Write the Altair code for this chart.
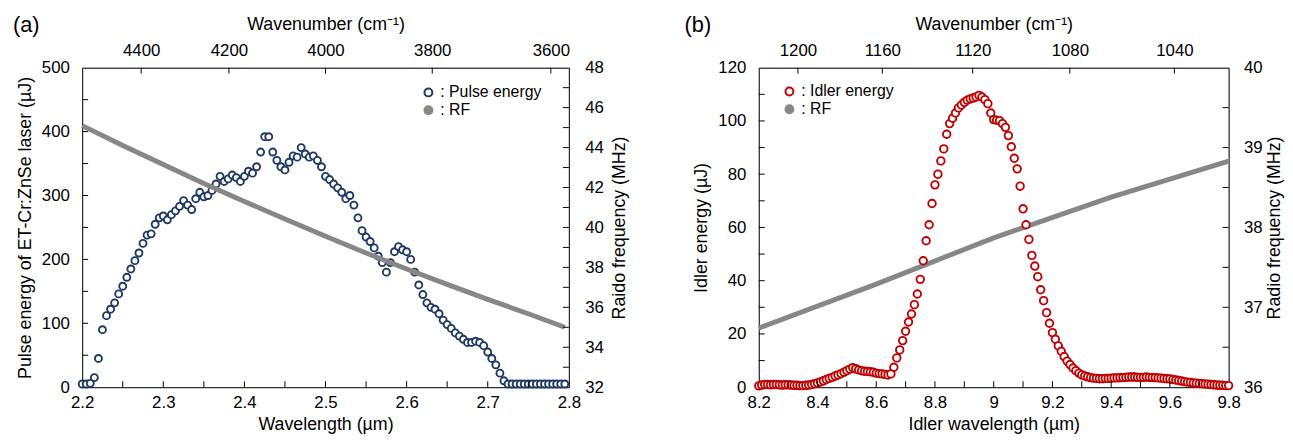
import altair as alt
import pandas as pd

FONT = "Liberation Sans"
NAVY = "#1F3864"
RED = "#C00000"
GRAY = "#878787"

# ---------------- panel (a) data ----------------
WL_A = [2.200, 2.205, 2.210, 2.215, 2.220, 2.225, 2.230, 2.235, 2.240, 2.245,
        2.250, 2.255, 2.260, 2.265, 2.270, 2.275, 2.280, 2.285, 2.290, 2.295,
        2.300, 2.305, 2.310, 2.315, 2.320, 2.325, 2.330, 2.335, 2.340, 2.345,
        2.350, 2.355, 2.360, 2.365, 2.370, 2.375, 2.380, 2.385, 2.390, 2.395,
        2.400, 2.405, 2.410, 2.415, 2.420, 2.425, 2.430, 2.435, 2.440, 2.445,
        2.450, 2.455, 2.460, 2.465, 2.470, 2.475, 2.480, 2.485, 2.490, 2.495,
        2.500, 2.505, 2.510, 2.515, 2.520, 2.525, 2.530, 2.535, 2.540, 2.545,
        2.550, 2.555, 2.560, 2.565, 2.570, 2.575, 2.580, 2.585, 2.590, 2.595,
        2.600, 2.605, 2.610, 2.615, 2.620, 2.625, 2.630, 2.635, 2.640, 2.645,
        2.650, 2.655, 2.660, 2.665, 2.670, 2.675, 2.680, 2.685, 2.690, 2.695,
        2.700, 2.705, 2.710, 2.715, 2.720, 2.725, 2.730, 2.735, 2.740, 2.745,
        2.750, 2.755, 2.760, 2.765, 2.770, 2.775, 2.780, 2.785, 2.790, 2.795]
PULSE = [5, 5, 6, 15, 45, 90, 112, 122, 132, 146,
         158, 172, 185, 198, 210, 225, 238, 240, 255, 265,
         268, 262, 270, 276, 283, 292, 285, 278, 295, 305,
         298, 300, 308, 318, 330, 322, 326, 332, 328, 322,
         330, 338, 335, 345, 368, 392, 392, 368, 355, 345,
         340, 352, 362, 360, 375, 365, 360, 362, 355, 345,
         330, 325, 318, 312, 305, 295, 300, 285, 265, 245,
         235, 228, 218, 205, 195, 180, 195, 212, 220, 215,
         212, 200, 180, 160, 145, 132, 125, 122, 115, 105,
         98, 92, 85, 80, 75, 70, 70, 72, 70, 65,
         55, 45, 35, 22, 10, 5, 5, 5, 5, 5,
         5, 5, 5, 5, 5, 5, 5, 5, 5, 5]
RF_WL_A = [2.2, 2.25, 2.3, 2.35, 2.4, 2.45, 2.5, 2.55, 2.6, 2.65, 2.7, 2.75, 2.795]
RF_A = [45.1, 44.1, 43.15, 42.2, 41.3, 40.42, 39.56, 38.72, 37.92, 37.15, 36.4, 35.68, 35.0]

XT_A = [2.2, 2.3, 2.4, 2.5, 2.6, 2.7, 2.8]
XMINOR_A = [2.25, 2.3, 2.35, 2.4, 2.45, 2.5, 2.55, 2.6, 2.65, 2.7, 2.75]
WN_A = [4400, 4200, 4000, 3800, 3600]
YT_A = [0, 100, 200, 300, 400, 500]
YMINOR_A = [50, 100, 150, 200, 250, 300, 350, 400, 450]
RT_A = [32, 34, 36, 38, 40, 42, 44, 46, 48]
RMINOR_A = [33, 34, 35, 36, 37, 38, 39, 40, 41, 42, 43, 44, 45, 46, 47]

# ---------------- panel (b) data ----------------
WL_B = [8.20, 8.21, 8.22, 8.23, 8.24, 8.25, 8.26, 8.27, 8.28, 8.29,
        8.30, 8.31, 8.32, 8.33, 8.34, 8.35, 8.36, 8.37, 8.38, 8.39,
        8.40, 8.41, 8.42, 8.43, 8.44, 8.45, 8.46, 8.47, 8.48, 8.49,
        8.50, 8.51, 8.52, 8.53, 8.54, 8.55, 8.56, 8.57, 8.58, 8.59,
        8.60, 8.61, 8.62, 8.63, 8.64, 8.65, 8.66, 8.67, 8.68, 8.69,
        8.70, 8.71, 8.72, 8.73, 8.74, 8.75, 8.76, 8.77, 8.78, 8.79,
        8.80, 8.81, 8.82, 8.83, 8.84, 8.85, 8.86, 8.87, 8.88, 8.89,
        8.90, 8.91, 8.92, 8.93, 8.94, 8.95, 8.96, 8.97, 8.98, 8.99,
        9.00, 9.01, 9.02, 9.03, 9.04, 9.05, 9.06, 9.07, 9.08, 9.09,
        9.10, 9.11, 9.12, 9.13, 9.14, 9.15, 9.16, 9.17, 9.18, 9.19,
        9.20, 9.21, 9.22, 9.23, 9.24, 9.25, 9.26, 9.27, 9.28, 9.29,
        9.30, 9.31, 9.32, 9.33, 9.34, 9.35, 9.36, 9.37, 9.38, 9.39,
        9.40, 9.41, 9.42, 9.43, 9.44, 9.45, 9.46, 9.47, 9.48, 9.49,
        9.50, 9.51, 9.52, 9.53, 9.54, 9.55, 9.56, 9.57, 9.58, 9.59,
        9.60, 9.61, 9.62, 9.63, 9.64, 9.65, 9.66, 9.67, 9.68, 9.69,
        9.70, 9.71, 9.72, 9.73, 9.74, 9.75, 9.76, 9.77, 9.78, 9.79,
        9.80]
IDLER = [0.5, 0.8, 1.0, 1.0, 0.9, 1.0, 1.0, 0.9, 0.8, 0.9,
         0.9, 0.8, 0.7, 0.7, 0.6, 0.6, 0.7, 0.8, 1.0, 1.3,
         1.6, 2.0, 2.4, 2.9, 3.3, 3.7, 4.2, 4.6, 5.1, 5.6,
         6.2, 6.8, 7.3, 6.9, 6.5, 6.2, 6.0, 5.9, 5.8, 5.6,
         5.3, 5.1, 5.0, 4.8, 4.6, 5.0, 7.5, 11.0, 14.0, 17.5,
         21.0, 24.5, 27.5, 31.0, 35.0, 40.5, 47.5, 55.0, 61.0, 69.0,
         76.0, 80.0, 85.0, 89.5, 95.0, 99.0, 101.0, 103.0, 104.9, 106.0,
         107.0, 107.8, 108.3, 108.6, 109.0, 109.6, 109.0, 108.0, 106.5, 103.0,
         100.5, 100.3, 100.1, 99.0, 97.6, 94.5, 90.3, 86.0, 82.0, 75.5,
         67.0, 61.0, 55.5, 49.5, 45.5, 41.5, 36.6, 32.5, 28.0, 24.0,
         20.5, 18.0, 15.5, 13.5, 11.5, 9.8, 8.5, 7.2, 6.2, 5.3,
         4.6, 4.2, 3.9, 3.6, 3.4, 3.3, 3.2, 3.2, 3.3, 3.3,
         3.4, 3.5, 3.5, 3.6, 3.6, 3.7, 3.8, 3.8, 3.8, 3.7,
         3.7, 3.7, 3.8, 3.7, 3.6, 3.6, 3.5, 3.4, 3.3, 3.2,
         3.1, 2.9, 2.7, 2.5, 2.3, 2.1, 1.9, 1.8, 1.6, 1.5,
         1.4, 1.3, 1.2, 1.1, 1.0, 0.9, 0.8, 0.7, 0.7, 0.6,
         0.6]
RF_WL_B = [8.2, 8.6, 9.0, 9.4, 9.8]
RF_B = [36.74, 37.29, 37.87, 38.38, 38.83]

XT_B = [8.2, 8.4, 8.6, 8.8, 9.0, 9.2, 9.4, 9.6, 9.8]
XMINOR_B = [8.3, 8.4, 8.5, 8.6, 8.7, 8.8, 8.9, 9.0, 9.1, 9.2, 9.3, 9.4, 9.5, 9.6, 9.7]
WN_B = [1200, 1160, 1120, 1080, 1040]
YT_B = [0, 20, 40, 60, 80, 100, 120]
YMINOR_B = [10, 20, 30, 40, 50, 60, 70, 80, 90, 100, 110]
RT_B = [36, 37, 38, 39, 40]
RMINOR_B = [36.5, 37, 37.5, 38, 38.5, 39, 39.5]

LBL = 17
TTL = 18
AX = dict(labelFont=FONT, labelFontSize=LBL, labelColor="black",
          titleFont=FONT, titleFontSize=TTL, titleFontWeight="normal",
          titleColor="black", domainColor="black", grid=False,
          labelFlush=False, labelOverlap=False, ticks=False)
TICK = 6
TICK_COLOR = "black"


def panel(wl, en, rwl, rf, xdom, ydom, rdom, xt, xminor, wn, yt, yminor, rt, rminor,
          W, H, color, label, xtitle, ytitle, rtitle, leg_xy, tag, tag_x, size, rf_on_top,
          rlab_pad, rtitle_pad):
    pts = pd.DataFrame({"wl": wl, "e": en, "s": [label] * len(wl)})
    rfd = pd.DataFrame({"wl": rwl, "rf": rf})
    xs = alt.Scale(domain=xdom, nice=False, zero=False)
    ys = alt.Scale(domain=ydom, nice=False, zero=False)
    rs = alt.Scale(domain=rdom, nice=False, zero=False)
    wn_pos = [10000.0 / v for v in wn]

    leg = dict(orient="none", legendX=leg_xy[0], legendY=leg_xy[1], title=None,
               labelFont=FONT, labelFontSize=16, labelColor="black",
               symbolType="circle", symbolSize=64, symbolStrokeWidth=2,
               rowPadding=2, labelOffset=4, padding=0)
    dom = [label, ": RF"]

    energy = alt.Chart(pts).mark_point(shape="circle", size=size, strokeWidth=1.9, opacity=1).encode(
        x=alt.X("wl:Q", scale=xs, axis=alt.Axis(orient="bottom", values=xt, format=".1~f",
                                                 labelPadding=8, title=xtitle,
                                                 titlePadding=5, **AX)),
        y=alt.Y("e:Q", scale=ys, axis=alt.Axis(orient="left", values=yt,
                                                labelPadding=13, title=ytitle, titlePadding=7, **AX)),
        stroke=alt.Stroke("s:N", scale=alt.Scale(domain=dom, range=[color, GRAY]),
                          legend=alt.Legend(**leg)),
        fill=alt.Fill("s:N", scale=alt.Scale(domain=dom, range=["white", GRAY]),
                      legend=alt.Legend(**leg)),
    )

    rfline = alt.Chart(rfd).mark_line(color=GRAY, strokeWidth=5).encode(
        x=alt.X("wl:Q", scale=xs, axis=alt.Axis(orient="top", values=wn_pos,
                                                 labelExpr="format(10000/datum.value, '.0f')",
                                                 labelPadding=8,
                                                 title="Wavenumber (cm⁻¹)", titlePadding=9, **AX)),
        y=alt.Y("rf:Q", scale=rs, axis=alt.Axis(orient="right", values=rt,
                                                 labelPadding=rlab_pad, title=rtitle,
                                                 titlePadding=rtitle_pad,
                                                 titleAngle=270, titleBaseline="top", **AX)),
    )

    # inward tick marks drawn through the scales
    t_bottom = alt.Chart(pd.DataFrame({"v": xminor})).mark_rule(color=TICK_COLOR, strokeWidth=1).encode(
        x=alt.X("v:Q", scale=xs, axis=None), y=alt.value(H), y2=alt.value(H - TICK))
    t_top = alt.Chart(pd.DataFrame({"v": wn_pos})).mark_rule(color=TICK_COLOR, strokeWidth=1).encode(
        x=alt.X("v:Q", scale=xs, axis=None), y=alt.value(0), y2=alt.value(TICK))
    t_left = alt.Chart(pd.DataFrame({"v": yminor})).mark_rule(color=TICK_COLOR, strokeWidth=1).encode(
        y=alt.Y("v:Q", scale=ys, axis=None), x=alt.value(0), x2=alt.value(TICK))
    t_right = alt.Chart(pd.DataFrame({"v": rminor})).mark_rule(color=TICK_COLOR, strokeWidth=1).encode(
        y=alt.Y("v:Q", scale=rs, axis=None), x=alt.value(W), x2=alt.value(W - TICK))

    tagc = alt.Chart(pd.DataFrame({"t": [tag]})).mark_text(
        font=FONT, fontSize=22, align="left", baseline="middle", color="black").encode(
        text="t:N", x=alt.value(tag_x), y=alt.value(-43))

    layers = [energy, rfline] if rf_on_top else [rfline, energy]
    return alt.layer(*layers, t_bottom, t_top, t_left, t_right, tagc).resolve_scale(
        x="independent", y="independent").resolve_axis(
        x="independent", y="independent").properties(width=W, height=H)


pa = panel(WL_A, PULSE, RF_WL_A, RF_A, [2.2, 2.8], [0, 500], [32, 48],
           XT_A, XMINOR_A, WN_A, YT_A, YMINOR_A, RT_A, RMINOR_A,
           492, 323, NAVY, ": Pulse energy", "Wavelength (µm)",
           "Pulse energy of ET-Cr:ZnSe laser (µJ)", "Raido frequency (MHz)",
           (342, 17), "(a)", -70, 50, True, 16, 7)

pb = panel(WL_B, IDLER, RF_WL_B, RF_B, [8.2, 9.8], [0, 120], [36, 40],
           XT_B, XMINOR_B, WN_B, YT_B, YMINOR_B, RT_B, RMINOR_B,
           475, 323, RED, ": Idler energy", "Idler wavelength (µm)",
           "Idler energy (µJ)", "Radio frequency (MHz)",
           (23, 16), "(b)", -75, 58, False, 15, 4)

chart = alt.hconcat(pa, pb, spacing=55).resolve_scale(
    stroke="independent", fill="independent").properties(
    padding={"left": 4, "top": 3, "right": 0, "bottom": 0}).configure_view(
    stroke="black", strokeWidth=1).configure(background="white")

chart.save("out.html", embed_options={"renderer": "svg", "actions": False})
